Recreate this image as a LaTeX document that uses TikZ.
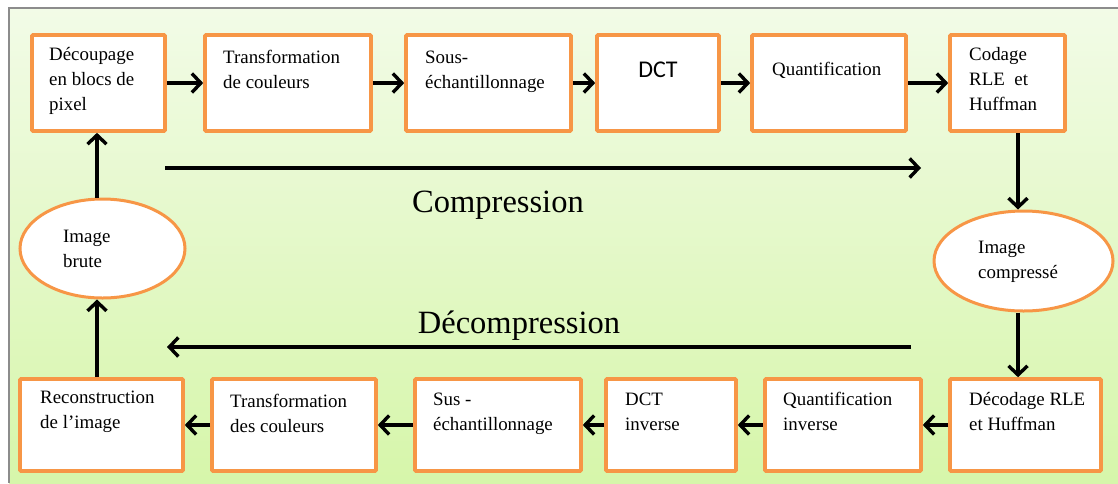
\documentclass[tikz,border=0pt]{standalone}
\usepackage{fontspec}
\setmainfont{Liberation Serif}
\newfontfamily\calfont{Carlito}
\usetikzlibrary{arrows.meta,shapes.geometric}
\definecolor{orng}{HTML}{F79646}
\definecolor{bgtop}{HTML}{F2FBE7}
\definecolor{bgbot}{HTML}{D6F6AA}
\definecolor{frame}{HTML}{8C8C8C}
\newcommand\tstrut{\rule{0pt}{14pt}}
\begin{document}
\begin{tikzpicture}[x=1pt,y=-1pt,
  box/.style={draw=orng, line width=3.6pt, fill=white, rounded corners=1pt, inner sep=0pt},
  oval/.style={ellipse, draw=orng, line width=3pt, fill=white, inner sep=0pt},
  txt/.style={anchor=north west, inner sep=0pt, align=left, font=\fontsize{18.9pt}{25pt}\selectfont},
  big/.style={anchor=base, inner sep=0pt, font=\fontsize{32.5pt}{36pt}\selectfont},
  arr/.style={line width=3.6pt, -{Straight Barb[length=9pt,width=19pt,line width=3.4pt]}}]
\useasboundingbox (0,0) rectangle (1118,483);
\fill[white] (0,0) rectangle (1118,483);
\shade[top color=bgtop, bottom color=bgbot] (9,8) rectangle (1118,483);
\draw[frame, line width=1.5pt] (9,483) -- (9,8) -- (1118,8);

% top row boxes
\node[box, minimum width=133pt, minimum height=96pt] (d1) at (98.5,83) {};
\node[box, minimum width=166pt, minimum height=96pt] (d2) at (288,83) {};
\node[box, minimum width=165pt, minimum height=96pt] (d3) at (488.5,83) {};
\node[box, minimum width=122pt, minimum height=96pt] (d4) at (658,83) {};
\node[box, minimum width=154pt, minimum height=96pt] (d5) at (829,83) {};
\node[box, minimum width=115pt, minimum height=96pt] (d6) at (1007.5,83) {};

\node[txt] (t1) at (49,46) {\tstrut D\'ecoupage\\en blocs de\\pixel};
\node[txt] (t2) at (223,49) {\tstrut Transformation\\de couleurs};
\node[txt] (t3) at (425,49) {\tstrut Sous-\\\'echantillonnage};
\node[anchor=base, inner sep=0pt, font=\calfont\fontsize{24pt}{28pt}\selectfont] (t4) at (658,77) {DCT};
\node[txt] (t5) at (772,61) {\tstrut Quantification};
\node[txt] (t6) at (969,46) {\tstrut Codage\\RLE\ \ et\\Huffman};

% ellipses
\node[oval, minimum width=165pt, minimum height=99pt] (ib) at (102.5,248.5) {};
\node[oval, minimum width=179pt, minimum height=100pt] (ic) at (1023.5,261) {};
\node[txt] (e1) at (63,228) {\tstrut Image\\brute};
\node[txt] (e2) at (978,239) {\tstrut Image\\compress\'e};

% bottom row boxes
\node[box, minimum width=163pt, minimum height=92pt] (r1) at (101.5,425) {};
\node[box, minimum width=164pt, minimum height=92pt] (r2) at (294,425) {};
\node[box, minimum width=166pt, minimum height=92pt] (r3) at (498,425) {};
\node[box, minimum width=130pt, minimum height=92pt] (r4) at (671,425) {};
\node[box, minimum width=156pt, minimum height=92pt] (r5) at (843,425) {};
\node[box, minimum width=151pt, minimum height=92pt] (r6) at (1025.5,425) {};

\node[txt] (b1) at (40,389) {\tstrut Reconstruction\\de l’image};
\node[txt] (b2) at (230,393) {\tstrut Transformation\\des couleurs};
\node[txt] (b3) at (433,391) {\tstrut Sus -\\\'echantillonnage};
\node[txt] (b4) at (625,391) {\tstrut DCT\\inverse};
\node[txt] (b5) at (783,391) {\tstrut Quantification\\inverse};
\node[txt] (b6) at (969,391) {\tstrut D\'ecodage RLE\\et Huffman};

% labels
\node[big] (lc) at (498,212) {Compression};
\node[big] (ld) at (519,333) {D\'ecompression};

% helper coordinates
\coordinate (lx) at (97,0);
\coordinate (rx) at (1018,0);
\coordinate (cs) at (165,168);
\coordinate (ce) at (921,168);
\coordinate (ds) at (911,347);
\coordinate (de) at (167,347);

% connectors
\draw[arr] (d1.east) -- (d2.west);
\draw[arr] (d2.east) -- (d3.west);
\draw[arr] (d3.east) -- (d4.west);
\draw[arr] (d4.east) -- (d5.west);
\draw[arr] (d5.east) -- (d6.west);

\draw[arr] (r6.west) -- (r5.east);
\draw[arr] (r5.west) -- (r4.east);
\draw[arr] (r4.west) -- (r3.east);
\draw[arr] (r3.west) -- (r2.east);
\draw[arr] (r2.west) -- (r1.east);

\draw[arr] (ib.north -| lx) -- (d1.south -| lx);
\draw[arr] (r1.north -| lx) -- (ib.south -| lx);
\draw[arr] (d6.south -| rx) -- (ic.north -| rx);
\draw[arr] (ic.south -| rx) -- (r6.north -| rx);

\draw[arr] (cs) -- (ce);
\draw[arr] (ds) -- (de);
\end{tikzpicture}
\end{document}
